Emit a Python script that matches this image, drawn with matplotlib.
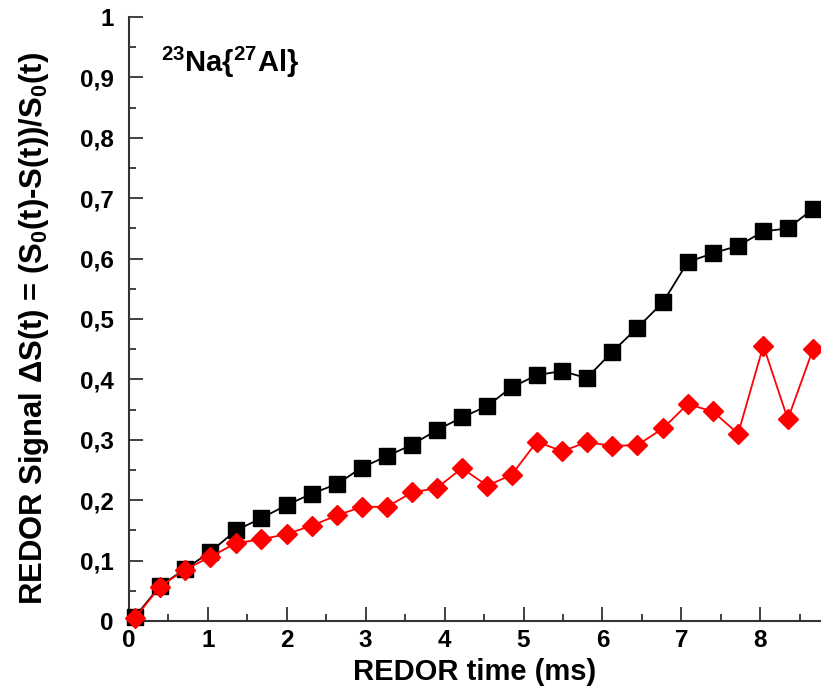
import matplotlib
matplotlib.use("Agg")
import matplotlib.pyplot as plt
from matplotlib.ticker import MultipleLocator, FuncFormatter

plt.rcParams['font.family'] = ['Liberation Sans', 'DejaVu Sans']
plt.rcParams['font.weight'] = 'bold'
plt.rcParams['mathtext.fontset'] = 'custom'
plt.rcParams['mathtext.rm'] = 'Liberation Sans:bold'
plt.rcParams['mathtext.it'] = 'Liberation Sans:bold'
plt.rcParams['mathtext.bf'] = 'Liberation Sans:bold'

time_ms = [0.076, 0.393, 0.71, 1.027, 1.356, 1.673, 2.0, 2.32, 2.64, 2.95,
           3.27, 3.59, 3.90, 4.22, 4.54, 4.85, 5.17, 5.49, 5.80, 6.12,
           6.44, 6.77, 7.08, 7.40, 7.72, 8.04, 8.35, 8.67]
black_series = [0.007, 0.058, 0.086, 0.114, 0.150, 0.170, 0.192, 0.211, 0.227, 0.254,
                0.273, 0.292, 0.316, 0.337, 0.356, 0.387, 0.407, 0.414, 0.402, 0.445,
                0.485, 0.528, 0.594, 0.609, 0.621, 0.645, 0.650, 0.682]
red_series = [0.005, 0.057, 0.085, 0.106, 0.129, 0.135, 0.144, 0.158, 0.175, 0.189,
              0.189, 0.213, 0.220, 0.253, 0.224, 0.242, 0.297, 0.281, 0.296, 0.290,
              0.291, 0.319, 0.359, 0.347, 0.310, 0.456, 0.334, 0.450]

fig = plt.figure(figsize=(8.21, 6.98), dpi=100)
ax = fig.add_axes([129/821, 77/698, 1 - 129/821, 604/698])

ax.plot(time_ms, black_series, color='black', lw=1.3, marker='s', ms=12,
        mfc='black', mec='black', clip_on=False, zorder=3)
ax.plot(time_ms, red_series, color='red', lw=1.3, marker='D', ms=10.5,
        mfc='red', mec='red', clip_on=False, zorder=4)

ax.set_xlim(0, 692/78.9)
ax.set_ylim(0, 1)
ax.xaxis.set_major_locator(MultipleLocator(1))
ax.xaxis.set_minor_locator(MultipleLocator(0.5))
ax.yaxis.set_major_locator(MultipleLocator(0.1))
ax.yaxis.set_minor_locator(MultipleLocator(0.05))

def fmt(v, pos):
    s = f"{v:.1f}".rstrip('0').rstrip('.')
    return s.replace('.', ',')
ax.yaxis.set_major_formatter(FuncFormatter(fmt))
ax.xaxis.set_major_formatter(FuncFormatter(fmt))

for s in ['top', 'right']:
    ax.spines[s].set_visible(False)
for s in ['left', 'bottom']:
    ax.spines[s].set_color('#333333')
    ax.spines[s].set_linewidth(1.5)

ax.tick_params(which='major', direction='in', length=10, width=1.3, color='#333333',
               labelsize=17.5)
ax.tick_params(which='minor', direction='in', length=5, width=1.3, color='#333333')
ax.tick_params(axis='x', which='major', pad=6)
ax.tick_params(axis='y', which='major', pad=11)
for lab in ax.get_xticklabels() + ax.get_yticklabels():
    lab.set_fontweight('bold')

ax.set_xlabel('REDOR time (ms)', fontsize=21, fontweight='bold', labelpad=4)
ax.set_ylabel(r'REDOR Signal $\Delta$S(t) = (S$_0$(t)-S(t))/S$_0$(t)',
              fontsize=22.3, fontweight='bold')
ax.yaxis.set_label_coords(-0.112, 0.485)

ax.text(0.41, 0.909, r'$^{23}$Na{$^{27}$Al}', fontsize=21, fontweight='bold',
        transform=ax.transData)

fig.savefig('out.png', dpi=100)
